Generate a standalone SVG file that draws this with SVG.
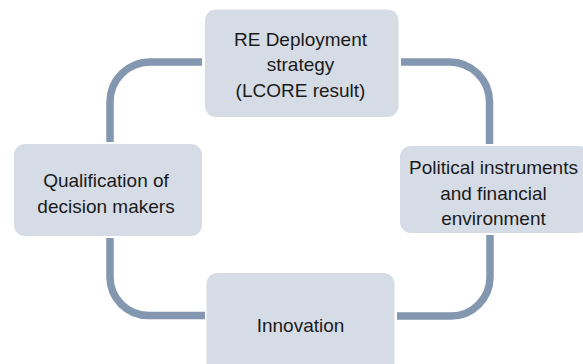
<svg xmlns="http://www.w3.org/2000/svg" width="583" height="364" viewBox="0 0 583 364">
<style>
.box{fill:#d6dce5;}
.lbl{font-family:"Liberation Sans",Arial,sans-serif;font-size:19px;fill:#1a1a1a;text-anchor:middle;}
.conn{fill:none;stroke:#8497b0;stroke-width:7.5;}
</style>
<rect width="583" height="364" fill="#ffffff"/>
<g id="connectors">
<path class="conn" d="M 202 62 H 150 A 40 40 0 0 0 110 102 V 142"/>
<path class="conn" d="M 401 62 H 449.5 A 40 40 0 0 1 489.5 102 V 144"/>
<path class="conn" d="M 110 238 V 277 A 38.5 38.5 0 0 0 148.5 315.5 H 205"/>
<path class="conn" d="M 490 235 V 277 A 39 39 0 0 1 451 316 H 397"/>
</g>
<g id="node-re-deployment">
<rect class="box" x="205" y="9.5" width="193.5" height="107.5" rx="11"/>
<text class="lbl" x="300.5" y="45.5">RE Deployment</text>
<text class="lbl" x="300.5" y="71">strategy</text>
<text class="lbl" x="300.5" y="96.5">(LCORE result)</text>
</g>
<g id="node-political">
<rect class="box" x="400" y="146" width="190" height="87" rx="11"/>
<text class="lbl" x="493.5" y="174">Political instruments</text>
<text class="lbl" x="493.5" y="199.5">and financial</text>
<text class="lbl" x="493.5" y="224.5">environment</text>
</g>
<g id="node-qualification">
<rect class="box" x="14" y="144" width="188" height="92" rx="11"/>
<text class="lbl" x="106" y="187">Qualification of</text>
<text class="lbl" x="106" y="213">decision makers</text>
</g>
<g id="node-innovation">
<rect class="box" x="206.5" y="273" width="188" height="105" rx="11"/>
<text class="lbl" x="300.5" y="332">Innovation</text>
</g>
</svg>
